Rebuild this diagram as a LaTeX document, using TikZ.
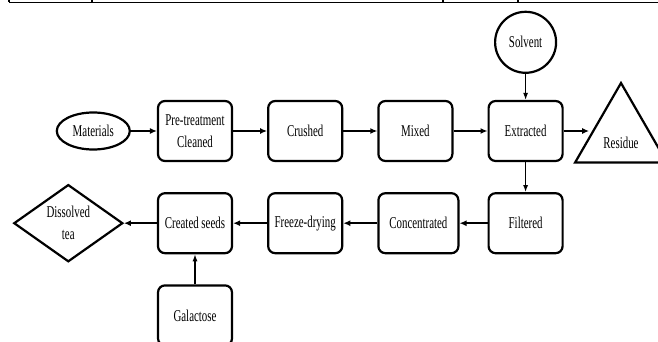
\documentclass[tikz,border=0pt]{standalone}
\usepackage{fontspec}
\setmainfont[FakeStretch=0.66]{Liberation Serif}
\usepackage{tikz}
\usetikzlibrary{arrows.meta,positioning,shapes.geometric}

\begin{document}
\begin{tikzpicture}[
  x=1pt, y=-1pt,
  node distance=30pt and 34pt,
  every node/.style={font=\fontsize{16.5}{22}\selectfont, align=center},
  box/.style={draw, rectangle, rounded corners=7pt, line width=2.2pt, minimum width=74pt, minimum height=60pt, inner sep=2pt},
  arrow/.style={-{Latex[length=7pt,width=6pt]}, line width=2.2pt},
  thinarrow/.style={-{Latex[length=7pt,width=5pt]}, line width=1.2pt}
]
\useasboundingbox (0,0) rectangle (658,342);

% top row
\node[box] (pretreat) at (195,131) {Pre-treatment\\Cleaned};
\node[box, right=of pretreat] (crushed) {Crushed};
\node[box, right=of crushed] (mixed) {Mixed};
\node[box, right=of mixed] (extracted) {Extracted};
\node[draw, ellipse, line width=2.2pt, minimum width=73pt, minimum height=37pt, inner sep=1pt, left=26pt of pretreat] (materials) {Materials};
\node[draw, circle, line width=2.2pt, minimum size=61pt, inner sep=1pt, above=26pt of extracted] (solvent) {Solvent};
\node[draw, regular polygon, regular polygon sides=3, line width=2.2pt, minimum size=106pt, inner sep=0pt,
  label={[yshift=-7pt]center:Residue}] (residue) at (621,136) {};

% bottom row
\node[box, below=of extracted] (filtered) {Filtered};
\node[box, minimum width=80pt, left=28pt of filtered] (concentrated) {Concentrated};
\node[box, left=of concentrated] (freeze) {Freeze-drying};
\node[box, left=of freeze] (seeds) {Created seeds};
\node[box, below=of seeds] (galactose) {Galactose};
\node[draw, diamond, line width=2.2pt, minimum width=109pt, minimum height=67pt, inner sep=0pt, left=33pt of seeds] (dissolved) {Dissolved\\tea};

% connectors
\draw[arrow] (materials) -- (pretreat);
\draw[arrow] (pretreat) -- (crushed);
\draw[arrow] (crushed) -- (mixed);
\draw[arrow] (mixed) -- (extracted);
\draw[arrow] (extracted.east) -- (extracted.east -| residue.west);
\draw[thinarrow] (solvent) -- (extracted);
\draw[thinarrow] (extracted) -- (filtered);
\draw[arrow] (filtered) -- (concentrated);
\draw[arrow] (concentrated) -- (freeze);
\draw[arrow] (freeze) -- (seeds);
\draw[arrow] (seeds) -- (dissolved);
\draw[thinarrow] (galactose) -- (seeds);

% table edge at the top
\draw[line width=1.5pt] (9,2.5) -- (658,2.5);
\foreach \x in {9,92,443,518}
  \draw[line width=1.5pt] (\x,0) -- (\x,2.5);
\end{tikzpicture}
\end{document}
